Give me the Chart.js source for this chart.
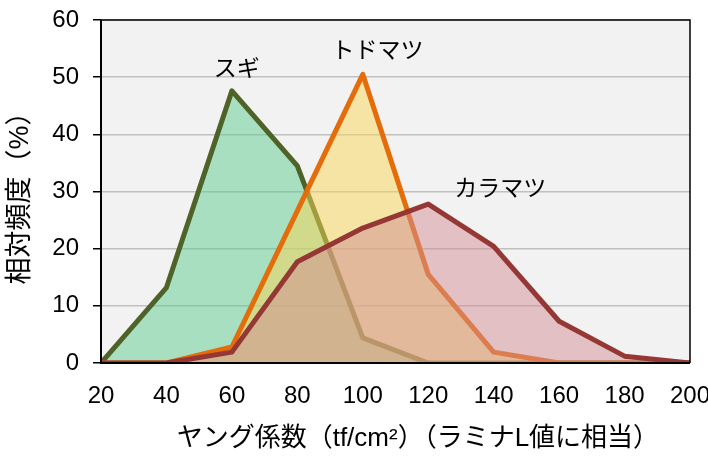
<!DOCTYPE html>
<html>
<head>
<meta charset="utf-8">
<title>ヤング係数の分布</title>
<script src="https://cdn.jsdelivr.net/npm/chart.js@4.4.0/dist/chart.umd.min.js"></script>
<style>
    html, body { margin: 0; padding: 0; background: #ffffff; }
    #wrap { width: 708px; height: 456px; }
</style>
</head>
<body>
<div id="wrap"><canvas id="young-chart"></canvas></div>
<script>
    "use strict";

    // Data (x = ヤング係数, y = 相対頻度 %)
    var youngValues = [20, 40, 60, 80, 100, 120, 140, 160, 180, 200];
    var sugi      = [0, 13.2, 47.6, 34.5, 4.4, 0, 0, 0, 0, 0];
    var todomatsu = [0, 0, 2.8, 26.6, 50.5, 15.5, 1.9, 0, 0, 0];
    var karamatsu = [0, 0, 1.9, 17.7, 23.6, 27.8, 20.4, 7.3, 1.2, 0];

    var seriesNames = ["スギ", "トドマツ", "カラマツ"];
    // where each series name is written, in data units [x, y]
    var namePositions = [[61.5, 51.8], [104.5, 54.8], [142, 30.8]];

    var yTicks = [0, 10, 20, 30, 40, 50, 60];
    var xTitle = "ヤング係数（tf/cm²）（ラミナL値に相当）";

    function toPoints(values) {
        return values.map(function (v, i) {
            return {x: youngValues[i], y: v};
        });
    }

    Chart.defaults.font.family = "'Liberation Sans', 'Noto Sans CJK JP', sans-serif";
    Chart.defaults.color = "#000000";


    // Plot background, frame, series names and x title
    var plotFrame = {
        id: "plotFrame",
        beforeDraw: function (chart) {
            var a = chart.chartArea;
            var ctx = chart.ctx;
            ctx.save();
            ctx.fillStyle = "#f2f2f2";
            ctx.fillRect(a.left, a.top, a.right - a.left, a.bottom - a.top);
            ctx.restore();
        },
        afterDatasetsDraw: function (chart) {
            var a = chart.chartArea;
            var ctx = chart.ctx;
            ctx.save();
            ctx.strokeStyle = "#000000";
            ctx.lineWidth = 1.5;
            ctx.beginPath();
            ctx.moveTo(a.left, a.top);
            ctx.lineTo(a.right, a.top);
            ctx.lineTo(a.right, a.bottom);
            ctx.stroke();
            ctx.lineWidth = 2;
            ctx.beginPath();
            ctx.moveTo(a.left, a.top);
            ctx.lineTo(a.left, a.bottom);
            ctx.lineTo(a.right, a.bottom);
            ctx.stroke();

            var xs = chart.scales.x;
            var ys = chart.scales.y;
            ctx.fillStyle = "#000000";
            ctx.font = "23px 'Noto Sans CJK JP', sans-serif";
            ctx.textAlign = "center";
            ctx.textBaseline = "middle";
            seriesNames.forEach(function (name, i) {
                var p = namePositions[i];
                ctx.fillText(name, xs.getPixelForValue(p[0]), ys.getPixelForValue(p[1]));
            });

            // x axis title, a little right of the axis centre as in the original
            ctx.font = "26px 'Liberation Sans', 'Noto Sans CJK JP', sans-serif";
            ctx.fillText(xTitle, a.left + (a.right - a.left) * 0.538, xs.bottom - 17);
            ctx.restore();
        }
    };


    // Chart
    var ctx = document.getElementById("young-chart").getContext("2d");
    var myChart = new Chart(ctx, {
        type: "line",
        data: {
            datasets: [{
                    label: seriesNames[0],
                    data: toPoints(sugi),
                    borderColor: "#4f6228",
                    backgroundColor: "rgba(94, 204, 144, 0.5)",
                    fill: "origin",
                    order: 3
                },
                {
                    label: seriesNames[1],
                    data: toPoints(todomatsu),
                    borderColor: "#e46c0a",
                    backgroundColor: "rgba(248, 214, 84, 0.5)",
                    fill: "origin",
                    order: 2
                },
                {
                    label: seriesNames[2],
                    data: toPoints(karamatsu),
                    borderColor: "#953735",
                    backgroundColor: "rgba(210, 142, 148, 0.5)",
                    fill: "origin",
                    order: 1
                }
            ]
        },
        options: {
            responsive: true,
            maintainAspectRatio: false,
            animation: false,
            layout: {
                padding: {left: 0, right: 18, top: 20, bottom: 0}
            },
            elements: {
                line: {borderWidth: 5, tension: 0, borderJoinStyle: "round"},
                point: {radius: 0, hoverRadius: 0}
            },
            plugins: {
                legend: {display: false},
                tooltip: {enabled: false}
            },
            scales: {
                x: {
                    type: "linear",
                    min: 20,
                    max: 200,
                    afterBuildTicks: function (scale) {
                        scale.ticks = youngValues.map(function (v) { return {value: v}; });
                    },
                    afterFit: function (scale) {
                        scale.height = 93;
                        scale.paddingLeft = 0;
                        scale.paddingRight = 0;
                    },
                    grid: {display: false, drawTicks: false},
                    border: {display: false},
                    ticks: {
                        padding: 19,
                        maxRotation: 0,
                        font: {size: 24}
                    },
                    title: {display: false}
                },
                y: {
                    min: 0,
                    max: 60,
                    afterBuildTicks: function (scale) {
                        scale.ticks = yTicks.map(function (v) { return {value: v}; });
                    },
                    afterFit: function (scale) {
                        scale.width = 101;
                        scale.paddingTop = 0;
                        scale.paddingBottom = 0;
                    },
                    grid: {
                        color: "#c0c0c0",
                        lineWidth: 1.5,
                        tickColor: "#000000",
                        tickLength: 8
                    },
                    border: {display: false},
                    ticks: {
                        padding: 14,
                        font: {size: 24}
                    },
                    title: {
                        display: true,
                        text: "相対頻度（%）",
                        font: {size: 27},
                        padding: {top: 4, bottom: 0}
                    }
                }
            }
        },
        plugins: [plotFrame]
    });
</script>
</body>
</html>
